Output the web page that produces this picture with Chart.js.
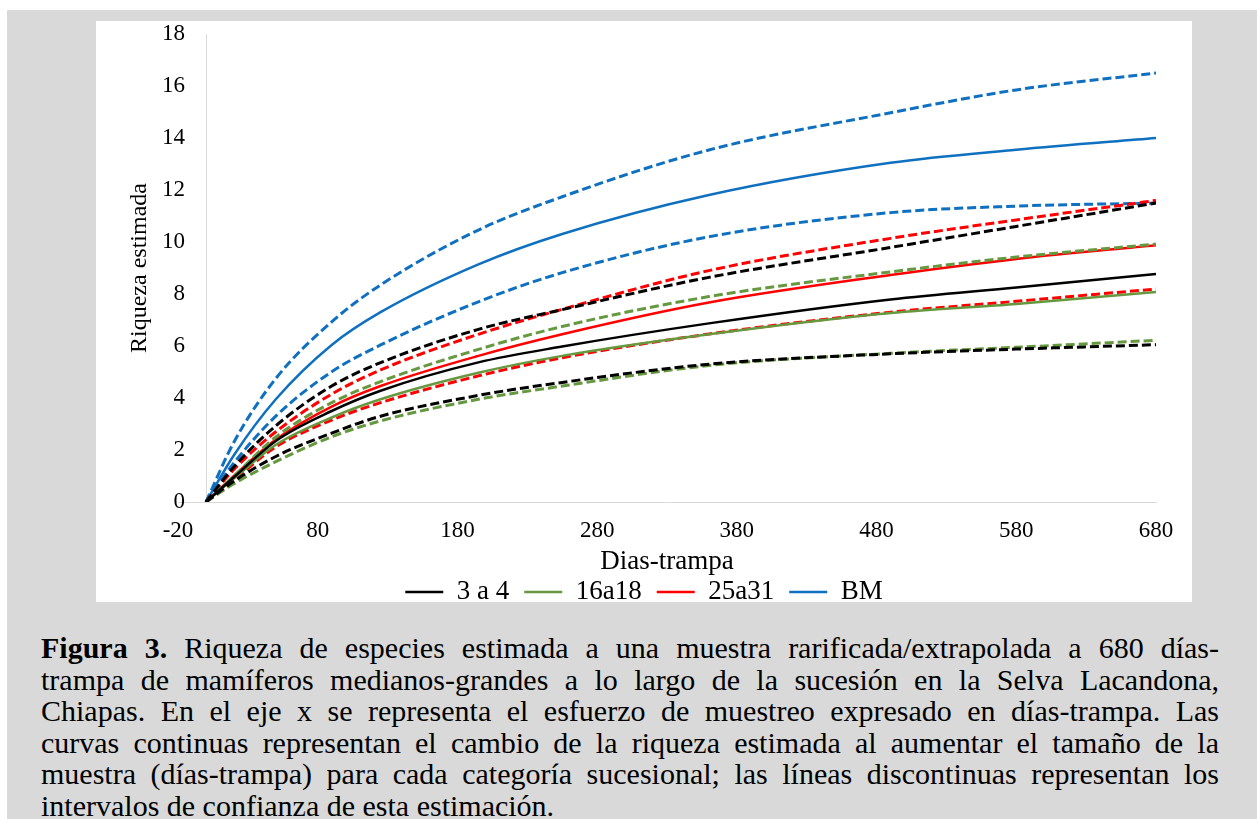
<!DOCTYPE html>
<html lang="es">
<head>
<meta charset="utf-8">
<title>Figura 3</title>
<script src="https://cdn.jsdelivr.net/npm/chart.js@4/dist/chart.umd.min.js"></script>
<style>
  html, body { margin: 0; padding: 0; background: #fff; }
  body { width: 1257px; height: 819px; position: relative; overflow: hidden;
         font-family: "Liberation Serif", "Times New Roman", serif; }
  .marco { position: absolute; left: 7px; top: 10px; right: 0; bottom: 0; background: #d9d9d9; }
  .grafico { position: absolute; left: 96px; top: 21px; width: 1096px; height: 581px; background: #fff; }
  .pie { position: absolute; left: 41px; top: 632px; width: 1178px; font-size: 30px;
         line-height: 31.6px; color: #000; }
  .pie div { text-align: justify; text-align-last: justify; }
  .pie div.ultima { text-align-last: left; }
</style>
</head>
<body>
<div class="marco"></div>
<div class="grafico"><canvas id="riquezaChart"></canvas></div>
<div class="pie">
  <div><b>Figura 3.</b> Riqueza de especies estimada a una muestra rarificada/extrapolada a 680 días-</div>
  <div>trampa de mamíferos medianos-grandes a lo largo de la sucesión en la Selva Lacandona,</div>
  <div>Chiapas. En el eje x se representa el esfuerzo de muestreo expresado en días-trampa. Las</div>
  <div>curvas continuas representan el cambio de la riqueza estimada al aumentar el tamaño de la</div>
  <div>muestra (días-trampa) para cada categoría sucesional; las líneas discontinuas representan los</div>
  <div class="ultima">intervalos de confianza de esta estimación.</div>
</div>
<script>
// días-trampa donde se leyeron los valores
const xDias = [0, 20, 50, 90, 125, 195, 255, 360, 490, 580, 680];
const xTicks = [-20, 80, 180, 280, 380, 480, 580, 680];

// 3 a 4
const negroMedia = [0, 0.95, 2.35, 3.5, 4.28, 5.37, 5.98, 6.87, 7.79, 8.25, 8.77];
const negroInf   = [0, 0.8, 1.75, 2.65, 3.3, 4.1, 4.6, 5.3, 5.7, 5.88, 6.05];
const negroSup   = [0, 1.35, 2.93, 4.46, 5.36, 6.64, 7.4, 8.64, 9.79, 10.6, 11.5];
// 16a18
const verdeMedia = [0, 0.9, 2.2, 3.25, 3.95, 4.97, 5.62, 6.45, 7.27, 7.62, 8.08];
const verdeInf   = [0, 0.7, 1.55, 2.51, 3.12, 3.95, 4.46, 5.25, 5.72, 5.95, 6.22];
const verdeSup   = [0, 1.0, 2.5, 3.82, 4.63, 5.87, 6.75, 7.9, 8.85, 9.42, 9.92];
// 25a31
const rojoMedia  = [0, 1.0, 2.4, 3.67, 4.46, 5.62, 6.45, 7.67, 8.73, 9.35, 9.88];
const rojoInf    = [0, 0.85, 2.12, 3.15, 3.82, 4.85, 5.55, 6.46, 7.3, 7.72, 8.19];
const rojoSup    = [0, 1.25, 2.7, 4.15, 5.08, 6.45, 7.41, 8.9, 10.14, 10.85, 11.6];
// BM
const azulMedia  = [0, 1.8, 3.95, 6.04, 7.3, 9.14, 10.31, 11.81, 13.05, 13.55, 14.0];
const azulInf    = [0, 1.5, 3.3, 5.01, 6.04, 7.7, 8.82, 10.2, 11.13, 11.38, 11.5];
const azulSup    = [0, 2.3, 4.75, 6.93, 8.35, 10.46, 11.74, 13.54, 14.97, 15.85, 16.5];

const NEGRO = '#000000';
const VERDE = '#66993f';
const ROJO = '#ff0000';
const AZUL = '#0f70c0';

function serie(label, valores, color, discontinua) {
    return {
        label: label,
        data: xDias.map((x, i) => ({ x: x, y: valores[i] })),
        borderColor: color,
        backgroundColor: color,
        borderWidth: discontinua ? 3 : 2.5,
        borderDash: discontinua ? [9, 4] : [],
        pointRadius: 0,
        pointBorderWidth: 2.5,
        cubicInterpolationMode: 'monotone',
        fill: false
    };
}

const fuente = "'Liberation Serif', 'Times New Roman', serif";

// eje vertical en x = 0 y etiquetas del eje y junto a él
const ejeCero = {
    id: 'ejeCero',
    beforeDatasetsDraw(chart) {
        const { ctx, scales: { x, y } } = chart;
        const px = Math.round(x.getPixelForValue(0)) + 0.5;
        ctx.save();
        ctx.strokeStyle = '#d9d9d9';
        ctx.lineWidth = 1;
        ctx.beginPath();
        ctx.moveTo(px, y.getPixelForValue(18));
        ctx.lineTo(px, y.getPixelForValue(0));
        ctx.stroke();
        ctx.restore();
    },
    afterDraw(chart) {
        const { ctx, scales: { x, y } } = chart;
        const derecha = x.getPixelForValue(0) - 21;
        ctx.save();
        ctx.fillStyle = '#000';
        ctx.font = '23px ' + fuente;
        ctx.textAlign = 'right';
        ctx.textBaseline = 'middle';
        y.ticks.forEach(t => {
            ctx.fillText(String(t.value), derecha, y.getPixelForValue(t.value));
        });
        ctx.restore();
    }
};

new Chart(document.getElementById('riquezaChart'), {
    type: 'line',
    data: {
        datasets: [
            serie('3 a 4', negroMedia, NEGRO, false),
            serie('3 a 4 inf', negroInf, NEGRO, true),
            serie('3 a 4 sup', negroSup, NEGRO, true),
            serie('16a18', verdeMedia, VERDE, false),
            serie('16a18 inf', verdeInf, VERDE, true),
            serie('16a18 sup', verdeSup, VERDE, true),
            serie('25a31', rojoMedia, ROJO, false),
            serie('25a31 inf', rojoInf, ROJO, true),
            serie('25a31 sup', rojoSup, ROJO, true),
            serie('BM', azulMedia, AZUL, false),
            serie('BM inf', azulInf, AZUL, true),
            serie('BM sup', azulSup, AZUL, true)
        ]
    },
    options: {
        responsive: true,
        maintainAspectRatio: false,
        animation: false,
        layout: { padding: { left: 0, right: 0, top: 13, bottom: -13.5 } },
        scales: {
            x: {
                type: 'linear',
                min: -20,
                max: 680,
                afterBuildTicks: s => { s.ticks = xTicks.map(v => ({ value: v })); },
                afterFit: s => { s.height = 61.5; },
                grid: { display: false, drawTicks: false },
                border: { display: true, color: '#d9d9d9', width: 1 },
                ticks: { color: '#000', padding: 15, maxRotation: 0, font: { family: fuente, size: 23 } },
                title: {
                    display: true, text: 'Dias-trampa', color: '#000',
                    padding: { top: 0, bottom: -14.7 }, font: { family: fuente, size: 27 }
                }
            },
            y: {
                min: 0,
                max: 18,
                afterFit: s => { s.width = 82; },
                grid: { display: false, drawTicks: false },
                border: { display: false },
                ticks: { stepSize: 2, display: false },
                title: {
                    display: true, text: 'Riqueza estimada', color: '#000',
                    padding: { top: 29.6, bottom: 0 }, font: { family: fuente, size: 24 }
                }
            },
            y2: {
                position: 'right',
                afterFit: s => { s.width = 36; },
                grid: { display: false },
                border: { display: false },
                ticks: { display: false }
            }
        },
        plugins: {
            legend: {
                position: 'bottom',
                labels: {
                    filter: (item, data) => data.datasets[item.datasetIndex].borderDash.length === 0,
                    usePointStyle: true,
                    pointStyle: 'line',
                    pointStyleWidth: 38,
                    padding: 15,
                    color: '#000',
                    font: { family: fuente, size: 27 }
                }
            },
            tooltip: { enabled: false }
        }
    },
    plugins: [ejeCero]
});
</script>
</body>
</html>
